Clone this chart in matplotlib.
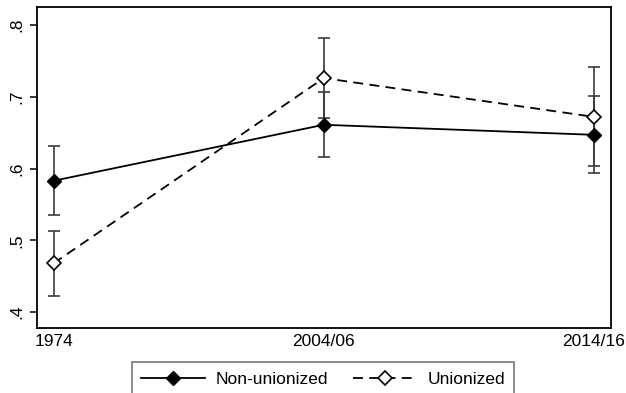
#!/usr/bin/env python3
# -*- coding: utf-8 -*-

# Import packages
import matplotlib.pyplot as plt

plt.rcParams["font.family"] = ["Liberation Sans", "DejaVu Sans"]

# DATA
periods = ["1974", "2004/06", "2014/16"]
non_union = [0.583, 0.661, 0.647]
non_union_lo = [0.535, 0.616, 0.594]
non_union_hi = [0.631, 0.706, 0.701]
union = [0.468, 0.726, 0.672]
union_lo = [0.422, 0.670, 0.603]
union_hi = [0.513, 0.782, 0.741]
y_ticks = [0.4, 0.5, 0.6, 0.7, 0.8]
y_tick_labels = [".4", ".5", ".6", ".7", ".8"]

x_pos = list(range(len(periods)))

fig = plt.figure(figsize=(6.26, 3.93), dpi=100)
ax = fig.add_axes([36.5 / 626, 65 / 393, 574.5 / 626, 321 / 393])

# Confidence intervals
err_color = "#3a3a3a"
for mid, lo, hi in [(non_union, non_union_lo, non_union_hi),
                    (union, union_lo, union_hi)]:
    ax.errorbar(
        x_pos, mid,
        yerr=[[m - l for m, l in zip(mid, lo)], [h - m for m, h in zip(mid, hi)]],
        fmt="none", ecolor=err_color, elinewidth=1.2, capsize=4, capthick=1.2, zorder=2,
    )

# Point estimates
ax.plot(x_pos, non_union, color="black", linestyle="-", linewidth=1.3,
        marker="D", markersize=7.5, markerfacecolor="black", markeredgecolor="black",
        label="Non-unionized", zorder=3)
ax.plot(x_pos, union, color="black", linestyle=(0, (5.5, 3.5)), linewidth=1.3,
        marker="D", markersize=7.5, markerfacecolor="white", markeredgecolor="black",
        markeredgewidth=1.2, label="Unionized", zorder=3)

ax.set_xlim(-0.063, 2.063)
ax.set_ylim(0.378, 0.825)
ax.set_xticks(x_pos)
ax.set_xticklabels(periods, fontsize=12.5)
ax.set_yticks(y_ticks)
ax.set_yticklabels(y_tick_labels, fontsize=12.5, rotation=90, va="center")
ax.tick_params(axis="x", length=0, pad=4)
ax.tick_params(axis="y", length=5, width=1.1, pad=4)
for spine in ax.spines.values():
    spine.set_linewidth(1.3)

leg = fig.legend(
    loc="upper center", bbox_to_anchor=(0.516, 31 / 393), ncol=2,
    fontsize=12.5, frameon=True, fancybox=False, edgecolor="#555555",
    handlelength=3.7, columnspacing=1.4, handletextpad=0.6, borderpad=0.55,
    borderaxespad=0,
)
leg.get_frame().set_linewidth(1.2)

fig.savefig("out.png", dpi=100)
plt.close(fig)
